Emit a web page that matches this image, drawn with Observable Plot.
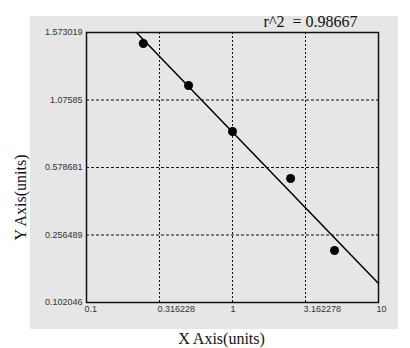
<!DOCTYPE html>
<html>
<head>
<meta charset="utf-8">
<script src="https://cdn.jsdelivr.net/npm/d3@7"></script>
<script src="https://cdn.jsdelivr.net/npm/@observablehq/plot@0.6"></script>
<style>
  html, body { margin: 0; padding: 0; background: #ffffff; }
  #chart svg { display: block; }
</style>
</head>
<body>
<div id="chart"></div>
<script>
// ---- data ----
const xValues = [0.245, 0.5, 1, 2.5, 5];
const yValues = [1.492, 1.183, 0.844, 0.526, 0.221];
const fitX = [0.2198, 10];
const fitY = [1.573019, 0.1455];
const xTicks = [0.1, 0.316228, 1, 3.162278, 10];
const xTickLabels = ["0.1", "0.316228", "1", "3.162278", "10"];
const yTicks = [0.102046, 0.256489, 0.578681, 1.07585, 1.573019];
const yTickLabels = ["0.102046", "0.256489", "0.578681", "1.07585", "1.573019"];
const r2Label = ["r^2  = 0.98667"];
const xTitle = ["X Axis(units)"];
const yTitle = ["Y Axis(units)"];

const points = xValues.map((x, i) => ({x, y: yValues[i]}));
const fit = fitX.map((x, i) => ({x, y: fitY[i]}));

const W = 410, H = 348;
const mL = 86, mR = 32, mT = 32, mB = 46;
const yRange = yTicks.map((_, i) => (H - mB) - i * ((H - mB - mT) / (yTicks.length - 1)));

const serif = "'Liberation Serif', 'Times New Roman', serif";
const sans = "'Liberation Sans', Arial, sans-serif";

const chart = Plot.plot({
  width: W,
  height: H,
  marginLeft: mL,
  marginRight: mR,
  marginTop: mT,
  marginBottom: mB,
  style: {background: "transparent", fontFamily: sans},
  x: {type: "log", domain: [0.1, 10]},
  y: {type: "linear", domain: yTicks, range: yRange},
  marks: [
    Plot.frame({fill: "#e6e6e6", stroke: "none"}),
    Plot.ruleX(xTicks.slice(1, -1), {stroke: "#111", strokeWidth: 1, strokeDasharray: "2,2"}),
    Plot.ruleY(yTicks.slice(1, -1), {stroke: "#111", strokeWidth: 1, strokeDasharray: "3,2"}),
    Plot.axisX({
      ticks: xTicks, tickSize: 0, tickPadding: 3,
      tickFormat: (d) => xTickLabels[xTicks.indexOf(d)],
      textAnchor: "start", dx: -2, fontSize: 9, fill: "#333", label: null
    }),
    Plot.axisY({
      ticks: yTicks, tickSize: 0, tickPadding: 4,
      tickFormat: (d) => yTickLabels[yTicks.indexOf(d)],
      fontSize: 9, fill: "#333", label: null
    }),
    Plot.line(fit, {x: "x", y: "y", stroke: "#000", strokeWidth: 1.5}),
    Plot.dot(points, {x: "x", y: "y", r: 4.5, fill: "#000", stroke: "none"}),
    Plot.frame({stroke: "#111", strokeWidth: 1.5}),
    Plot.text(r2Label, {frameAnchor: "top", lineAnchor: "middle", textAnchor: "middle", dx: 78, dy: -11, fontSize: 16, fontFamily: serif, fill: "#111"}),
    Plot.text(xTitle, {frameAnchor: "bottom", lineAnchor: "middle", textAnchor: "middle", dx: -11, dy: 36, fontSize: 16, fontFamily: serif, fill: "#111"}),
    Plot.text(yTitle, {frameAnchor: "left", lineAnchor: "middle", textAnchor: "middle", rotate: -90, dx: -66, dy: 30, fontSize: 16, fontFamily: serif, fill: "#111"})
  ]
});

// light gray panel behind the whole chart area
const ns = "http://www.w3.org/2000/svg";
const panel = document.createElementNS(ns, "rect");
panel.setAttribute("x", 30);
panel.setAttribute("y", 16);
panel.setAttribute("width", 368);
panel.setAttribute("height", 313);
panel.setAttribute("fill", "#e6e6e6");
chart.insertBefore(panel, chart.firstChild);

document.getElementById("chart").appendChild(chart);
</script>
</body>
</html>
